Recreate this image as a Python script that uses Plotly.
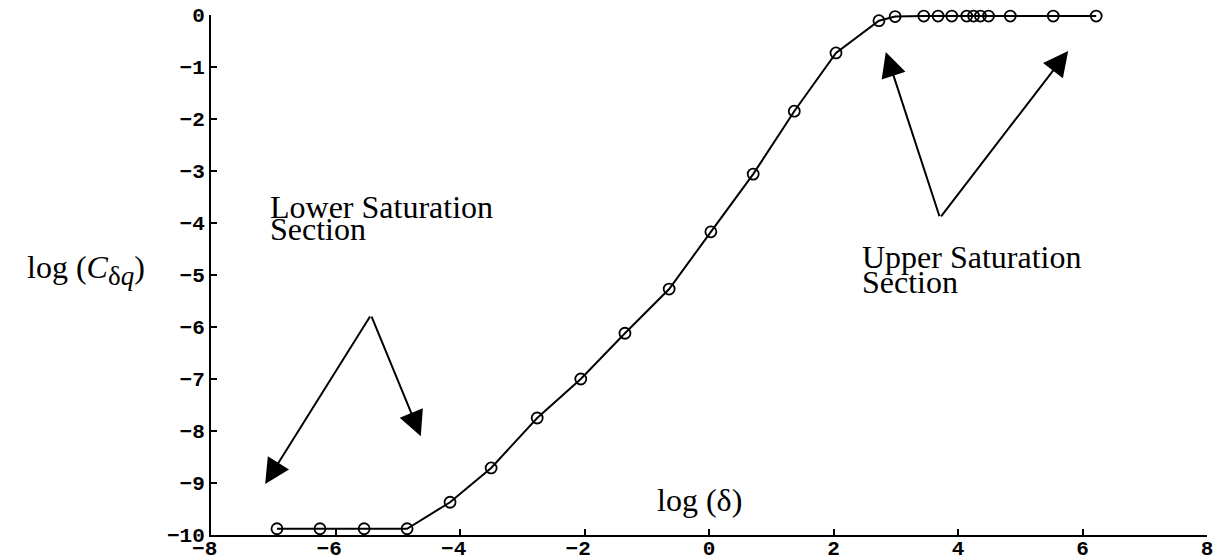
import plotly.graph_objects as go

# log(delta) sample positions and the corresponding log(C_dq) values
log_delta = [-6.94, -6.25, -5.54, -4.85, -4.16, -3.50, -2.76, -2.06, -1.35, -0.64,
             0.03, 0.71, 1.37, 2.04, 2.73, 2.99, 3.45, 3.68, 3.90, 4.14, 4.25,
             4.36, 4.49, 4.84, 5.53, 6.22]
log_c = [-9.88, -9.88, -9.88, -9.88, -9.37, -8.71, -7.75, -7.00, -6.12, -5.27,
         -4.17, -3.06, -1.85, -0.73, -0.11, -0.03, -0.02, -0.02, -0.02, -0.02, -0.02,
         -0.02, -0.02, -0.02, -0.02, -0.02]

x_tick_vals = [-8, -6, -4, -2, 0, 2, 4, 6, 8]
x_tick_text = ["\u22128\u00a0", "\u22126\u00a0", "\u22124\u00a0", "\u22122\u00a0",
               "0", "2", "4", "6", "8"]
y_tick_vals = [0, -1, -2, -3, -4, -5, -6, -7, -8, -9, -10]
y_tick_text = ["0", "\u22121", "\u22122", "\u22123", "\u22124", "\u22125", "\u22126",
               "\u22127", "\u22128", "\u22129", "\u221210"]

label_font = dict(family="Liberation Serif", size=32, color="black")
tick_font = dict(family="Liberation Mono", size=21, color="black", weight="bold")

fig = go.Figure()
fig.add_trace(go.Scatter(
    x=log_delta, y=log_c, mode="lines+markers",
    line=dict(color="black", width=2),
    marker=dict(symbol="circle-open", size=11, color="black", line=dict(width=1.8)),
    cliponaxis=False, showlegend=False,
))

annotations = []

# Arrows pointing at the two saturation regions
lower_tail = (-5.43, -5.77)
upper_tail = (3.71, -3.90)
arrow_tips = [(lower_tail, (-7.13, -9.02)), (lower_tail, (-4.63, -8.10)),
              (upper_tail, (2.84, -0.71)), (upper_tail, (5.77, -0.69))]
for tail, tip in arrow_tips:
    annotations.append(dict(
        x=tip[0], y=tip[1], ax=tail[0], ay=tail[1],
        xref="x", yref="y", axref="x", ayref="y",
        showarrow=True, arrowhead=2, arrowsize=2.5, arrowwidth=2,
        arrowcolor="black", text="",
    ))

# Region captions (two tight lines each)
captions = [("Lower Saturation", -7.08, -3.70), ("Section", -7.08, -4.12),
            ("Upper Saturation", 2.43, -4.66), ("Section", 2.43, -5.14),
            ("log (\u03b4)", -0.87, -9.33)]
for text, cx, cy in captions:
    annotations.append(dict(
        x=cx, y=cy, xref="x", yref="y", text=text, showarrow=False,
        xanchor="left", yanchor="middle", font=label_font,
    ))

# Vertical-axis title
annotations.append(dict(
    x=-0.126, y=0.51, xref="paper", yref="paper",
    text="log (<i>C</i><sub><span style='font-size:27px'>\u03b4<i>q</i></span></sub>)",
    showarrow=False, xanchor="center", yanchor="middle", font=label_font,
))

fig.update_layout(
    template="none",
    width=1216, height=560,
    margin=dict(l=211, r=9, t=15, b=25),
    paper_bgcolor="white", plot_bgcolor="white",
    annotations=annotations,
    xaxis=dict(
        range=[-8, 8], tickvals=x_tick_vals, ticktext=x_tick_text,
        showgrid=False, zeroline=False, showline=True, linecolor="black", linewidth=2,
        ticks="inside", ticklen=6, tickwidth=2, tickcolor="black",
        tickfont=tick_font, automargin=False, mirror=False, ticklabelstandoff=-7,
    ),
    yaxis=dict(
        range=[-10, 0], tickvals=y_tick_vals, ticktext=y_tick_text,
        showgrid=False, zeroline=False, showline=True, linecolor="black", linewidth=2,
        ticks="inside", ticklen=6, tickwidth=2, tickcolor="black",
        tickfont=tick_font, automargin=False, mirror=False,
    ),
)

fig.write_html("out.html")
